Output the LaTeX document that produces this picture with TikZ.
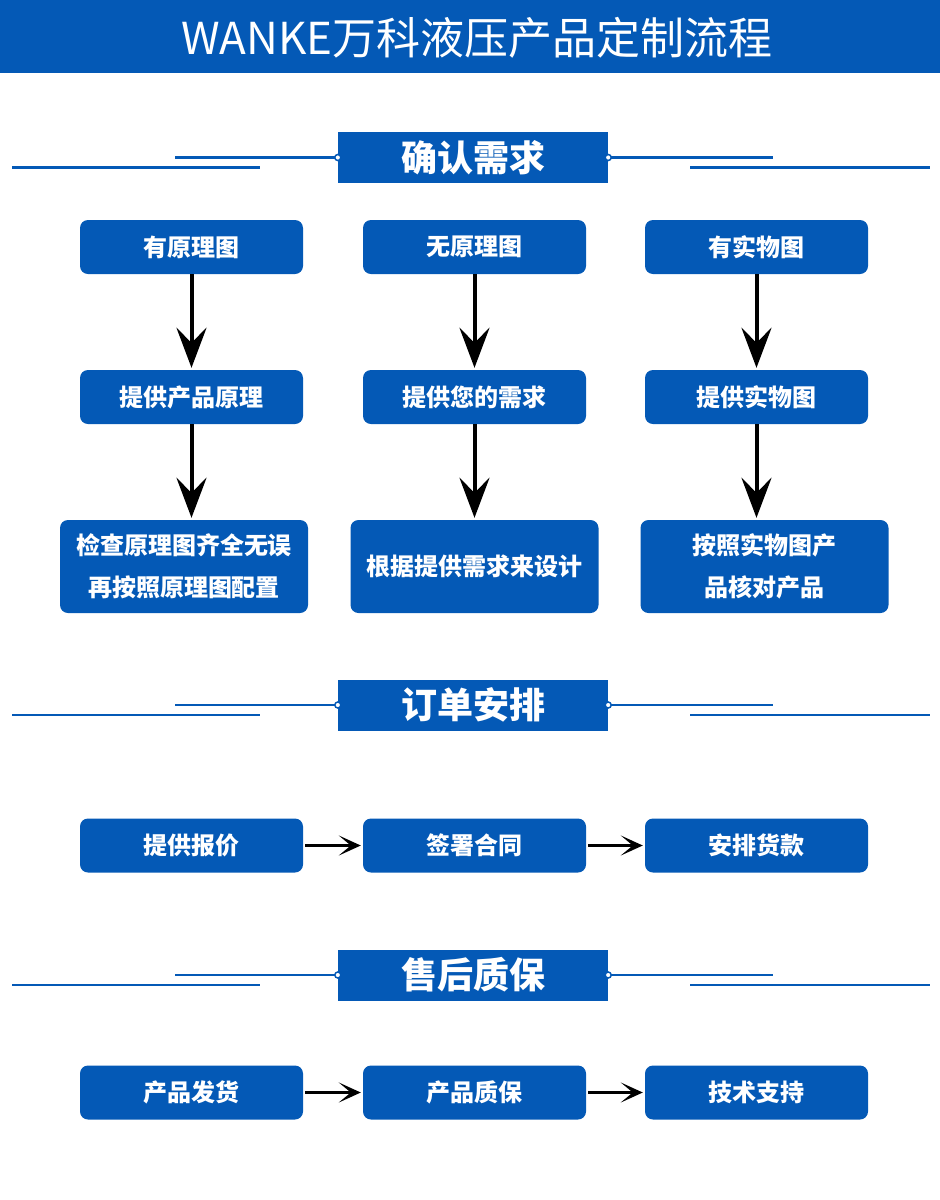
\documentclass[tikz,border=0pt]{standalone}
\usepackage{fontspec}
\setmainfont{Noto Sans CJK SC}
\usetikzlibrary{arrows.meta}
\definecolor{wankeblue}{HTML}{0459B6}
\begin{document}
\begin{tikzpicture}[x=1pt,y=-1pt]
        \tikzstyle{stagebox}=[rectangle,rounded corners=8pt,fill=wankeblue,text=white,font=\fontsize{24}{42}\selectfont\bfseries,minimum width=223pt,minimum height=54pt,align=center,inner sep=0pt]
        \tikzstyle{bigbox}=[stagebox,minimum width=248pt,minimum height=93pt]
        \tikzstyle{headbox}=[rectangle,fill=wankeblue,text=white,font=\fontsize{36}{40}\selectfont\bfseries,minimum width=270pt,minimum height=51pt,inner sep=0pt]
        \tikzstyle{edge}=[draw,line width=4pt,-{Stealth[length=40pt,width=30pt,inset=15pt]},shorten >=2pt]
        \tikzstyle{flow}=[draw,line width=3.5pt,-{Stealth[length=22pt,width=20pt,inset=12pt]},shorten >=2pt,shorten <=2pt]
        \tikzstyle{deco}=[draw=wankeblue,line width=2.5pt]
        \useasboundingbox (0,0) rectangle (940,1200);
        % title bar
        \fill[wankeblue] (0,0) rectangle (940,73);
        \node[text=white,font=\fontsize{44}{50}\selectfont] (title) at (477,38) {WANKE万科液压产品定制流程};
        % headers
        \node [headbox] (need) at (473,157.5) {确认需求};
        \node [headbox] (order) at (473,705) {订单安排};
        \node [headbox] (service) at (473,975) {售后质保};
        \foreach \h in {need,order,service} {
            \draw[deco] (\h.west) -- ++(-163,0);
            \draw[deco] ([yshift=-10pt]\h.west) ++(-78,0) -- ++(-248,0);
            \draw[deco] (\h.east) -- ++(165,0);
            \draw[deco] ([yshift=-10pt]\h.east) ++(82,0) -- ++(240,0);
            \filldraw[draw=wankeblue,fill=white,line width=1.5pt] (\h.west) circle (3pt);
            \filldraw[draw=wankeblue,fill=white,line width=1.5pt] (\h.east) circle (3pt);
        }
        % need
        \node [stagebox] (r1a) at (191.5,247) {有原理图};
        \node [stagebox] (r1b) at (474.5,247) {无原理图};
        \node [stagebox] (r1c) at (756.5,247) {有实物图};
        \node [stagebox] (r2a) at (191.5,397) {提供产品原理};
        \node [stagebox] (r2b) at (474.5,397) {提供您的需求};
        \node [stagebox] (r2c) at (756.5,397) {提供实物图};
        \node [bigbox] (r3a) at (184,566.5) {检查原理图齐全无误\\再按照原理图配置};
        \node [bigbox] (r3b) at (474.5,566.5) {根据提供需求来设计};
        \node [bigbox] (r3c) at (764.5,566.5) {按照实物图产\\品核对产品};
        \path[edge] (r1a) edge (r2a);
        \path[edge] (r1b) edge (r2b);
        \path[edge] (r1c) edge (r2c);
        \draw[edge] (r2a.south) -- (r2a.south |- r3a.north);
        \draw[edge] (r2b.south) -- (r2b.south |- r3b.north);
        \draw[edge] (r2c.south) -- (r2c.south |- r3c.north);
        % order
        \node [stagebox] (quote) at (191.5,845.5) {提供报价};
        \node [stagebox] (sign) at (474.5,845.5) {签署合同};
        \node [stagebox] (pay) at (756.5,845.5) {安排货款};
        \path[flow] (quote) edge (sign);
        \path[flow] (sign) edge (pay);
        % service
        \node [stagebox] (ship) at (191.5,1092.5) {产品发货};
        \node [stagebox] (warranty) at (474.5,1092.5) {产品质保};
        \node [stagebox] (support) at (756.5,1092.5) {技术支持};
        \path[flow] (ship) edge (warranty);
        \path[flow] (warranty) edge (support);
\end{tikzpicture}
\end{document}
